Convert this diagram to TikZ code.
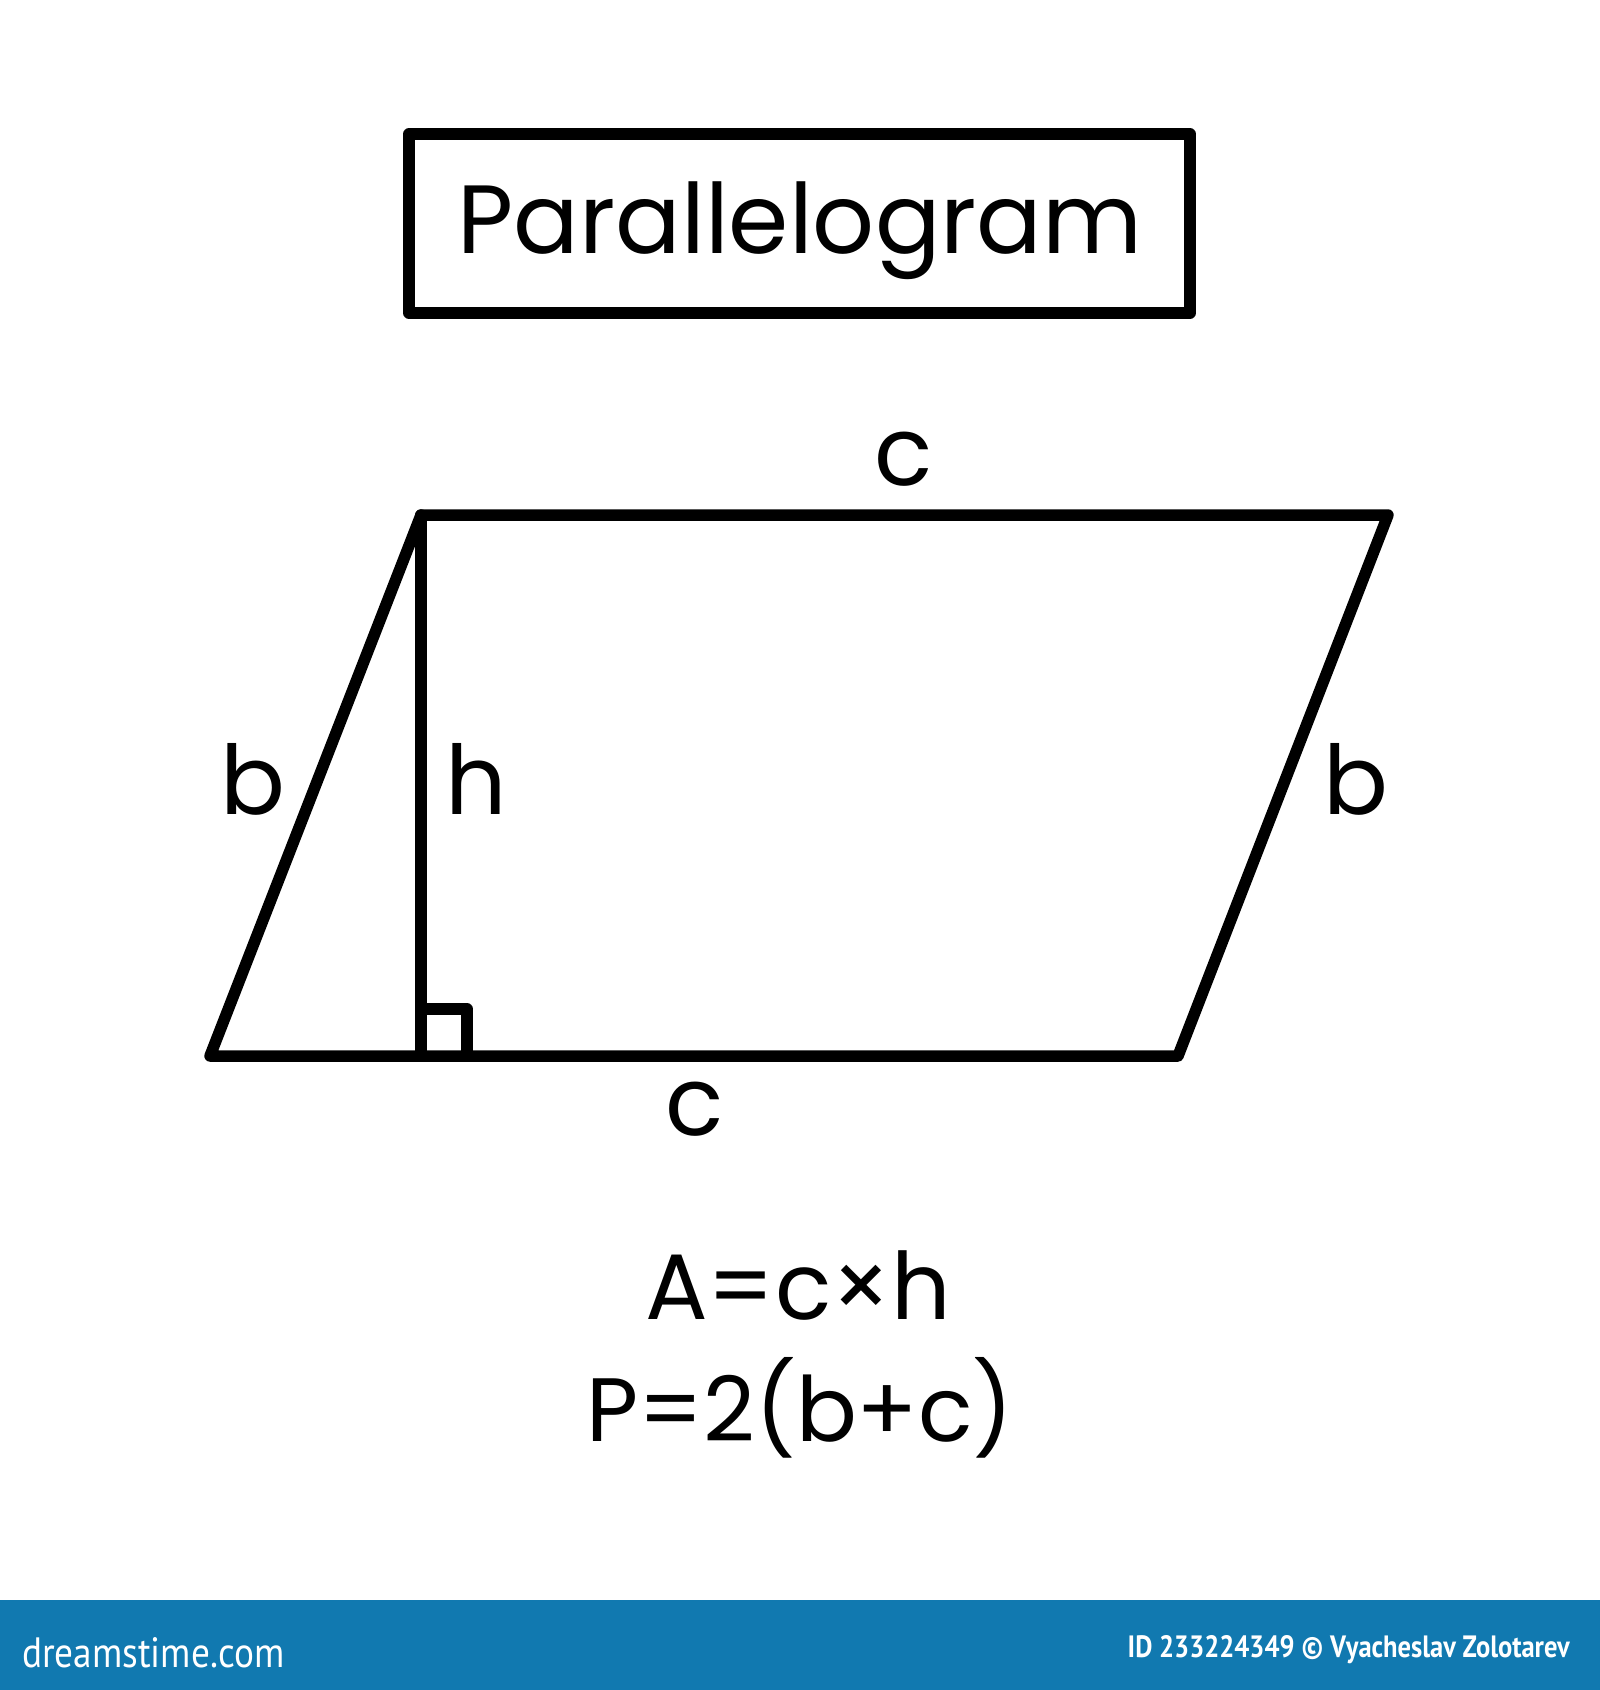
\documentclass[tikz,border=0pt]{standalone}
\usepackage{fontspec}
\setmainfont{Poppins}
\newfontfamily\barfont{PT Sans}
\definecolor{barblue}{RGB}{17,121,176}
\begin{document}
\begin{tikzpicture}[x=1pt,y=-1pt,
  outl/.style={line width=11.5pt, line join=round, line cap=round},
  lbl/.style={anchor=base, inner sep=0pt, font=\fontsize{96}{110}\selectfont},
  titletxt/.style={anchor=base, inner sep=0pt, font=\fontsize{97}{120}\selectfont},
  formula/.style={anchor=base, inner sep=0pt, font=\fontsize{93}{110}\selectfont},
  bartxt/.style={inner sep=0pt, text=white}]
\useasboundingbox (0,0) rectangle (1600,1690);
\fill[white] (0,0) rectangle (1600,1690);
\fill[barblue] (0,1600) rectangle (1600,1690);
% title box
\draw[outl] (409,134) rectangle (1190,313);
\node[titletxt] (title) at (800,253) {Parallelogram};
% parallelogram
\coordinate (TL) at (421,515);
\coordinate (TR) at (1388,515);
\coordinate (BR) at (1178,1056);
\coordinate (BL) at (210,1056);
\coordinate (H) at (421,1056);
\draw[outl] (BL) -- (TL) -- (TR) -- (BR) -- cycle;
\draw[outl] (TL) -- (H);
\draw[outl] (421,1009) -- (467,1009) -- (467,1056);
% labels
\node[lbl] (ctop) at (904,485) {c};
\node[lbl] (bleft) at (253,814) {b};
\node[lbl] (hlab) at (476,814) {h};
\node[lbl] (bright) at (1356,814) {b};
\node[lbl] (cbot) at (695,1135) {c};
% formulas
\node[formula] (area) at (798,1319) {A=c×h};
\node[formula, font=\fontsize{90}{110}\selectfont] (perim) at (800,1441) {P=2(b+c)};
% footer bar
\node[bartxt, anchor=base west] (logo) at (22,1667) {\resizebox{262pt}{30pt}{\barfont dreamstime.com}};
\node[bartxt, anchor=base east] (credit) at (1570,1657) {\resizebox{442pt}{22pt}{\barfont\bfseries ID 233224349 © Vyacheslav Zolotarev}};
\end{tikzpicture}
\end{document}
